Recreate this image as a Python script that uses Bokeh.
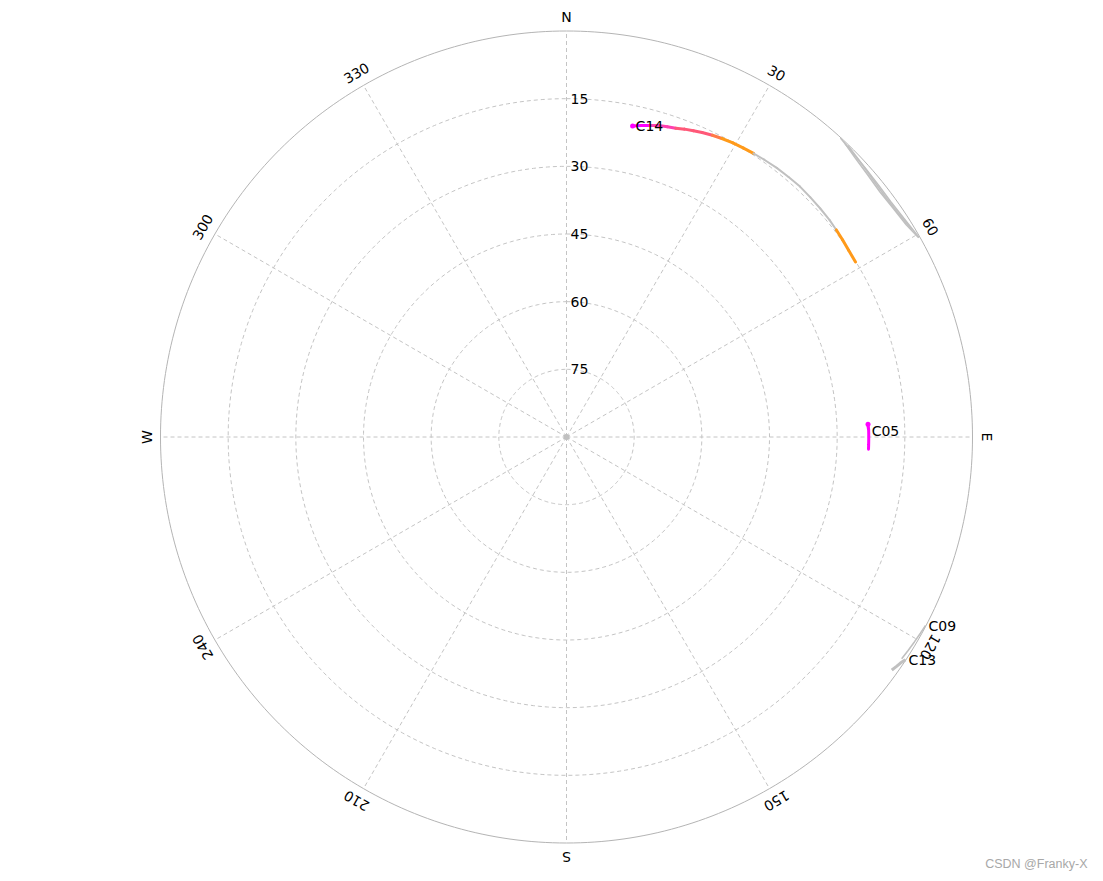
import math
from bokeh.plotting import figure
from bokeh.models import Range1d, ColumnDataSource
from bokeh.core.properties import value
from bokeh.embed import file_html
from bokeh.resources import INLINE

# ---------------- data ----------------
az_ticks = [0, 30, 60, 90, 120, 150, 180, 210, 240, 270, 300, 330]
az_tick_labels = ["N", "30", "60", "E", "120", "150", "S", "210", "240", "W", "300", "330"]
el_rings = [15, 30, 45, 60, 75]
el_ring_labels = ["15", "30", "45", "60", "75"]

# C14 track (azimuth deg, elevation deg, SNR dB-Hz; 0 = not tracked)
c14_az = [12.0, 13.5, 15.0, 16.5, 18.0, 19.5, 21.0, 22.5, 24.0, 25.8, 27.5, 29.5, 31.5, 33.4,
          35.5, 38.0, 40.5, 43.0, 45.5, 48.0, 50.5, 52.5, 54.5, 56.5, 58.8]
c14_el = [19.5, 19.0, 18.5, 18.0, 17.7, 17.4, 16.9, 16.5, 16.1, 15.7, 15.4, 15.1, 14.9, 14.7,
          14.5, 14.3, 14.2, 14.1, 14.2, 14.3, 14.4, 14.6, 14.8, 15.0, 15.1]
c14_snr = [46, 46, 42, 42, 42, 38, 38, 38, 38, 36, 33, 33, 33, 0,
           0, 0, 0, 0, 0, 0, 0, 33, 33, 33, 28]

# C05 track (GEO)
c05_az = [92.3, 91.5, 90.5, 89.5, 88.5, 87.6, 88.0, 88.8]
c05_el = [23.0, 23.0, 23.0, 23.0, 23.0, 23.1, 23.1, 23.0]

# C09 / C13 tracks (low, not tracked)
c09_az = [123.5, 122.0, 120.5, 119.0, 117.7]
c09_el = [0.9, 0.7, 0.5, 0.3, 0.1]
c13_az = [125.6, 124.8, 124.1, 123.3]
c13_el = [1.3, 0.9, 0.6, 0.1]

# unlabeled low tracks in the north-east
ne_a_az = [42.5, 45.0, 48.0, 51.0, 54.0, 57.0, 60.5]
ne_a_el = [0.1, 0.6, 0.9, 1.1, 1.2, 0.9, 0.2]
ne_b_az = [43.5, 46.0, 49.0, 52.0, 55.0, 58.0, 60.5]
ne_b_el = [0.3, 1.0, 1.5, 1.8, 1.6, 1.2, 0.3]
ne_c_az = [44.0, 47.0, 50.0, 53.0, 56.0, 59.0]
ne_c_el = [0.2, 0.8, 1.3, 1.5, 1.3, 0.7]

sat_names = ["C14", "C05", "C09", "C13"]

# ---------------- geometry ----------------
R = 406.0  # radius for elevation 0


def polar(az, el):
    r = R * (90.0 - el) / 90.0
    a = math.radians(az)
    return r * math.sin(a), r * math.cos(a)


def xy(azs, els):
    pts = [polar(a, e) for a, e in zip(azs, els)]
    return [p[0] for p in pts], [p[1] for p in pts]


def snr_color(s):
    if s <= 0:
        return "#c0c0c0"
    if s >= 45:
        return "#ff00ff"
    if s >= 40:
        return "#ff40b0"
    if s >= 37:
        return "#ff5878"
    if s >= 35:
        return "#ff7a48"
    if s >= 30:
        return "#ff9a1a"
    return "#e0a000"


W, H = 1095, 873
cx, cy = 566.0, 436.5

p = figure(width=W, height=H, output_backend="svg", toolbar_location=None,
           x_range=Range1d(-cx, W - cx), y_range=Range1d(cy - H, cy),
           min_border=0, min_border_left=0, min_border_right=0,
           min_border_top=0, min_border_bottom=0)
p.axis.visible = False
p.grid.visible = False
p.outline_line_color = None
p.background_fill_color = "white"
p.border_fill_color = "white"

FONT = value("DejaVu Sans")

# outer circle
n = 360
ox = [R * math.sin(math.radians(i)) for i in range(n + 1)]
oy = [R * math.cos(math.radians(i)) for i in range(n + 1)]
p.line(ox, oy, line_color="#b4b4b4", line_width=1)

# elevation rings
for el in el_rings:
    r = R * (90 - el) / 90.0
    rx = [r * math.sin(math.radians(i)) for i in range(n + 1)]
    ry = [r * math.cos(math.radians(i)) for i in range(n + 1)]
    p.line(rx, ry, line_color="#c4c4c4", line_width=1, line_dash="4 3")

# spokes
sx0, sy0, sx1, sy1 = [], [], [], []
for az in az_ticks:
    x1, y1 = polar(az, 0)
    sx0.append(0); sy0.append(0); sx1.append(x1); sy1.append(y1)
p.segment(sx0, sy0, sx1, sy1, line_color="#c4c4c4", line_width=1, line_dash="4 3")
p.scatter([0], [0], size=6, marker="circle", fill_color="#c0c0c0", line_color=None)

# azimuth labels
lx, ly, la = [], [], []
for az in az_ticks:
    r = R + 14
    a = math.radians(az)
    lx.append(r * math.sin(a)); ly.append(r * math.cos(a)); la.append(-a)
p.text(lx, ly, text=az_tick_labels, angle=la, text_align="center", text_baseline="middle",
       text_font=FONT, text_font_size="14px", text_color="#000000")

# elevation labels
ey = [R * (90 - e) / 90.0 for e in el_rings]
p.text([4] * len(el_rings), ey, text=el_ring_labels, text_align="left", text_baseline="middle",
       text_font=FONT, text_font_size="14px", text_color="#000000")

# gray low tracks
for azs, els in [(ne_a_az, ne_a_el), (ne_b_az, ne_b_el), (ne_c_az, ne_c_el),
                 (c09_az, c09_el), (c13_az, c13_el)]:
    tx, ty = xy(azs, els)
    p.line(tx, ty, line_color="#c0c0c0", line_width=1.6)
tx, ty = xy(c13_az, c13_el)
p.line(tx, ty, line_color="#c0c0c0", line_width=3)

# C14 coloured by SNR (untracked parts thinner)
x14, y14 = xy(c14_az, c14_el)
seg = ColumnDataSource(dict(
    x0=x14[:-1], y0=y14[:-1], x1=x14[1:], y1=y14[1:],
    c=[snr_color(s) for s in c14_snr[:-1]],
    w=[3 if s > 0 else 2 for s in c14_snr[:-1]]))
p.segment("x0", "y0", "x1", "y1", source=seg, line_color="c", line_width="w", line_cap="round")
p.scatter([x14[0]], [y14[0]], size=5, marker="circle", fill_color="#ff00ff", line_color=None)

# C05
x05, y05 = xy(c05_az, c05_el)
p.line(x05, y05, line_color="#ff00ff", line_width=3, line_cap="round")
p.scatter([x05[5]], [y05[5]], size=5, marker="circle", fill_color="#ff00ff", line_color=None)

# satellite labels at current positions
cur = [polar(c14_az[0], c14_el[0]), polar(c05_az[-1], c05_el[-1]),
       polar(c09_az[-1], c09_el[-1]), polar(c13_az[-1], c13_el[-1])]
p.text([c[0] + 3 for c in cur], [c[1] for c in cur], text=sat_names,
       text_align="left", text_baseline="middle",
       text_font=FONT, text_font_size="14px", text_color="#000000")

# watermark
p.text([1087 - cx], [cy - 863], text=["CSDN @Franky-X"], text_align="right",
       text_baseline="middle", text_font=value("Liberation Sans"),
       text_font_size="12.5px", text_color="#a8a8a8")

open("out.html", "w").write(file_html(p, INLINE))
